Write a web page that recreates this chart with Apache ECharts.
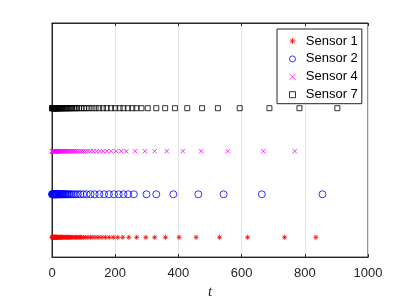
<!DOCTYPE html>
<html>
<head>
<meta charset="utf-8">
<script src="https://cdn.jsdelivr.net/npm/echarts@6/dist/echarts.min.js"></script>
<style>html,body{margin:0;padding:0;background:#fff}#c{width:407px;height:305px}</style>
</head>
<body>
<div id="c"></div>
<script>
var xTicks = [0, 200, 400, 600, 800, 1000];
var seriesNames = ['Sensor 1', 'Sensor 2', 'Sensor 4', 'Sensor 7'];
var rowLevels = [1, 2, 3, 4];
var sensor1 = [0, 1, 2, 3, 4, 5, 6, 7, 8, 9, 10, 11, 12, 13, 14, 15, 16, 18, 20, 22, 24, 26, 28, 30, 32, 34, 37, 40, 43, 46, 49, 52, 55, 58, 62, 66, 70, 74, 78, 82, 86, 90, 94, 100, 107, 114, 122, 130, 139, 148, 158, 169, 181, 194, 208, 224, 243, 268, 297, 325, 359, 402, 456, 530, 619, 736, 835];
var sensor2 = [0, 1, 2, 3, 4, 5, 6, 7, 8, 9, 10, 11, 12, 13, 14, 15, 16, 18, 20, 22, 24, 26, 28, 30, 32, 34, 37, 40, 43, 46, 49, 53, 57, 62, 68, 75, 82, 90, 99, 110, 122, 135, 150, 165, 180, 196, 211, 226, 241, 259, 299, 330, 384, 463, 543, 664, 856];
var sensor4 = [0, 1, 2, 3, 4, 5, 6, 7, 8, 9, 10, 11, 12, 13, 14, 15, 16, 18, 20, 22, 24, 26, 28, 30, 32, 34, 37, 40, 43, 46, 49, 52, 55, 59, 63, 67, 71, 75, 80, 86, 92, 99, 106, 114, 122, 131, 141, 151, 162, 174, 187, 203, 219, 235, 263, 294, 325, 363, 414, 472, 556, 669, 768];
var sensor7 = [0, 1, 2, 3, 4, 5, 6, 7, 8, 9, 10, 11, 12, 13, 14, 15, 16, 18, 20, 22, 24, 26, 28, 30, 32, 34, 37, 40, 43, 46, 49, 52, 56, 60, 64, 69, 74, 79, 86, 93, 101, 109, 118, 128, 138, 149, 161, 173, 187, 200, 214, 226, 240, 254, 267, 283, 303, 330, 358, 389, 428, 475, 525, 594, 688, 783, 903];

var allValues = [sensor1, sensor2, sensor4, sensor7];
var colors = ['#ff0000', '#0000ff', '#ff00ff', '#000000'];
var symbols = [
  'path://M0,-5L0,5M-5,0L5,0M-3.6,-3.6L3.6,3.6M-3.6,3.6L3.6,-3.6',
  'circle',
  'path://M-5,-5L5,5M-5,5L5,-5',
  'rect'
];
var sizes = [5, 7, 4.5, 5];

var series = seriesNames.map(function (name, i) {
  return {
    name: name,
    type: 'scatter',
    symbol: symbols[i],
    symbolSize: sizes[i],
    symbolKeepAspect: true,
    silent: true,
    itemStyle: { color: 'none', borderColor: colors[i], borderWidth: 0.8, opacity: 1 },
    data: allValues[i].map(function (v) { return [v, rowLevels[i]]; })
  };
});

var chart = echarts.init(document.getElementById('c'), null, { renderer: 'canvas' });
chart.setOption({
  animation: false,
  backgroundColor: '#fff',
  grid: { left: 52, right: 39, top: 23, bottom: 46, show: true, borderColor: '#262626', borderWidth: 1, containLabel: false },
  legend: {
    orient: 'vertical',
    left: 277,
    top: 29,
    padding: [5, 4, 2, 10],
    itemWidth: 6,
    itemHeight: 6,
    itemGap: 3.9,
    borderColor: '#262626',
    borderWidth: 1,
    backgroundColor: '#fff',
    textStyle: { fontFamily: 'Liberation Sans', fontSize: 13, color: '#000', lineHeight: 14, padding: [0, 0, 0, 5.3] },
    data: seriesNames.map(function (name, i) {
      return {
        name: name,
        icon: symbols[i],
        itemStyle: { color: 'none', borderColor: colors[i], borderWidth: 0.8 }
      };
    })
  },
  xAxis: [{
    type: 'value',
    min: xTicks[0],
    max: xTicks[xTicks.length - 1],
    interval: 200,
    position: 'bottom',
    name: 't',
    nameLocation: 'middle',
    nameGap: 25,
    nameTextStyle: { fontFamily: 'Liberation Serif', fontStyle: 'italic', fontSize: 15, color: '#262626' },
    axisLine: { show: true, onZero: false, lineStyle: { color: '#262626' } },
    axisTick: { show: true, inside: true, length: 3, lineStyle: { color: '#262626' } },
    axisLabel: { margin: 10, fontFamily: 'Liberation Sans', fontSize: 13, color: '#262626', formatter: function (v) { return String(v); } },
    splitLine: { show: true, lineStyle: { color: '#e3e3e3', width: 1 } }
  }, {
    type: 'value',
    min: xTicks[0],
    max: xTicks[xTicks.length - 1],
    interval: 200,
    position: 'top',
    axisLine: { show: true, onZero: false, lineStyle: { color: '#262626' } },
    axisTick: { show: true, inside: true, length: 3, lineStyle: { color: '#262626' } },
    axisLabel: { show: false },
    splitLine: { show: false }
  }],
  yAxis: {
    type: 'value',
    min: 0.54,
    max: 5.98,
    axisLine: { show: true, onZero: false, lineStyle: { color: '#262626' } },
    axisTick: { show: false },
    axisLabel: { show: false },
    splitLine: { show: false }
  },
  series: series
});
</script>
</body>
</html>
